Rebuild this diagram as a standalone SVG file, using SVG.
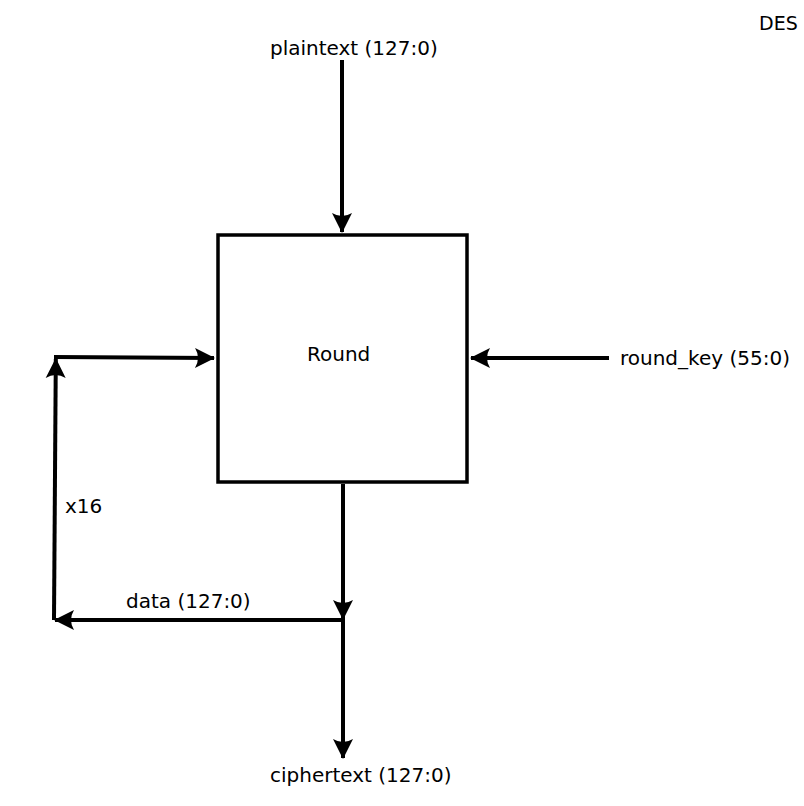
<svg xmlns="http://www.w3.org/2000/svg" width="804" height="806" viewBox="0 0 804 806">
<style>
text{font-family:"DejaVu Sans",sans-serif;font-size:20px;fill:#000}
.w{fill:none;stroke:#000;stroke-width:4}
</style>
<defs>
<marker id="ah" markerUnits="userSpaceOnUse" markerWidth="26" markerHeight="26" viewBox="-22 -13 26 26" refX="0" refY="0" orient="auto">
<path d="M1,0 L-19,-10 Q-13,0 -19,10 Z" fill="#000"/>
</marker>
</defs>
<rect width="804" height="806" fill="#fff"/>
<g id="node-round">
<rect x="218" y="235" width="249" height="247" fill="#fff" stroke="#000" stroke-width="3.5"/>
<text x="307" y="361">Round</text>
</g>
<g id="label-plaintext"><text x="270" y="55">plaintext (127:0)</text></g>
<g id="label-roundkey"><text x="620" y="365">round_key (55:0)</text></g>
<g id="label-ciphertext"><text x="270" y="782">ciphertext (127:0)</text></g>
<g id="label-des"><text x="759" y="30" style="font-size:19px">DES</text></g>
<g id="connectors">
<line class="w" x1="342" y1="60" x2="342" y2="232" marker-end="url(#ah)"/>
<line class="w" x1="609" y1="358" x2="471" y2="358" marker-end="url(#ah)"/>
<line class="w" x1="343" y1="484" x2="343" y2="619" marker-end="url(#ah)"/>
<line class="w" x1="345" y1="620" x2="55" y2="620" marker-end="url(#ah)"/>
<line class="w" x1="343" y1="620" x2="343" y2="758" marker-end="url(#ah)"/>
<line class="w" x1="54" y1="620" x2="55.8" y2="359" marker-end="url(#ah)"/>
<line class="w" x1="54" y1="357" x2="214" y2="358" marker-end="url(#ah)"/>
<text x="65" y="513">x16</text>
<text x="126" y="608">data (127:0)</text>
</g>
</svg>
